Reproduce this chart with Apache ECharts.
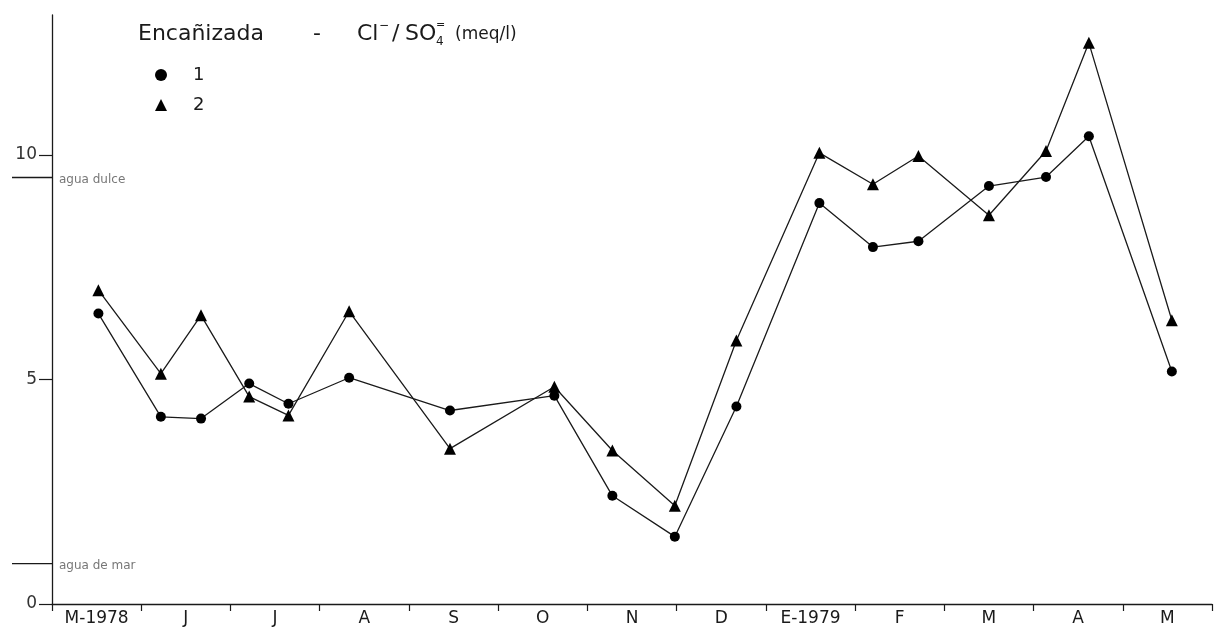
<!DOCTYPE html>
<html><head><meta charset="utf-8">
<script src="https://cdn.jsdelivr.net/npm/echarts@6/dist/echarts.min.js"></script>
<style>html,body{margin:0;padding:0;background:#fff}#c{width:1214px;height:633px}</style>
</head><body><div id="c"></div>
<script>
// Month categories along the x axis
const months = ['M-1978','J','J','A','S','O','N','D','E-1979','F','M','A','M'];
// Sampling dates, in months counted from the start of May 1978
const sampleMonths = [0.52,1.22,1.67,2.21,2.65,3.33,4.46,5.63,6.28,6.98,7.67,8.60,9.20,9.71,10.50,11.14,11.62,12.55];
// Cl- / SO4= (meq/l)
const station1 = [6.47,4.17,4.13,4.91,4.46,5.04,4.31,4.64,2.41,1.50,4.40,8.93,7.95,8.08,9.31,9.51,10.42,5.18];
const station2 = [6.99,5.13,6.43,4.62,4.20,6.52,3.46,4.84,3.42,2.19,5.87,10.05,9.35,9.98,8.66,10.09,12.50,6.32];
const yTicks = [0,5,10];
const refNames = ['agua dulce','agua de mar'];
const refValues = [9.5,0.9];

const FONT = 'DejaVu Sans';
const INK = '#1a1a1a';
const chart = echarts.init(document.getElementById('c'), null, {renderer:'canvas'});

function zip(xs, ys){ return xs.map((x,i)=>[x, ys[i]]); }

const option = {
  animation:false,
  backgroundColor:'#fff',
  grid:{left:52, right:2, top:15, bottom:29, containLabel:false},
  legend:{
    orient:'vertical', left:150, top:61, itemWidth:12, itemHeight:12, itemGap:12,
    textStyle:{fontFamily:FONT, fontSize:18, color:INK, padding:[0,0,0,21]},
    data:[{name:'1', icon:'circle'},{name:'2', icon:'triangle'}]
  },
  xAxis:[
    {type:'category', data:months, boundaryGap:true, position:'bottom',
     axisLine:{lineStyle:{color:INK, width:1.3}},
     axisTick:{show:true, length:7, inside:false, lineStyle:{color:INK, width:1.2}},
     axisLabel:{fontFamily:FONT, fontSize:17, color:INK, margin:6},
     splitLine:{show:false}},
    {type:'value', min:0, max:13, show:false}
  ],
  yAxis:{
    type:'value', min:0, max:13.12,
    axisLine:{show:true, lineStyle:{color:INK, width:1.3}},
    axisTick:{show:true, length:13, customValues:yTicks, lineStyle:{color:INK, width:1.2}},
    axisLabel:{fontFamily:FONT, fontSize:17, color:'#333', margin:15, customValues:yTicks},
    splitLine:{show:false}
  },
  series:[
    {name:'1', type:'line', xAxisIndex:1, data:zip(sampleMonths, station1),
     symbol:'circle', symbolSize:10, lineStyle:{color:INK, width:1.3},
     itemStyle:{color:'#000'}},
    {name:'2', type:'line', xAxisIndex:1, data:zip(sampleMonths, station2),
     symbol:'triangle', symbolSize:12, lineStyle:{color:INK, width:1.3},
     itemStyle:{color:'#000'}}
  ]
};
chart.setOption(option);

// reference levels drawn with the y scale
const refGraphics = [];
refValues.forEach((v,i)=>{
  const py = chart.convertToPixel({yAxisIndex:0}, v);
  refGraphics.push({type:'line', shape:{x1:12, y1:py, x2:52, y2:py}, style:{stroke:INK, lineWidth:1.3}});
  refGraphics.push({type:'text', x:59, y:py+2, style:{text:refNames[i], font:'12px '+FONT, fill:'#777', verticalAlign:'middle'}});
});
// title
const tf = '22px '+FONT;
const titleGraphics = [
  {type:'text', x:138, y:34, style:{text:'Encañizada', font:tf, fill:INK, verticalAlign:'middle'}},
  {type:'text', x:313, y:34, style:{text:'-', font:tf, fill:INK, verticalAlign:'middle'}},
  {type:'text', x:357, y:34, style:{text:'Cl', font:tf, fill:INK, verticalAlign:'middle'}},
  {type:'text', x:379, y:26, style:{text:'−', font:'12px '+FONT, fill:INK, verticalAlign:'middle'}},
  {type:'text', x:392, y:34, style:{text:'/', font:tf, fill:INK, verticalAlign:'middle'}},
  {type:'text', x:405, y:34, style:{text:'SO', font:tf, fill:INK, verticalAlign:'middle'}},
  {type:'text', x:436, y:42, style:{text:'4', font:'12px '+FONT, fill:INK, verticalAlign:'middle'}},
  {type:'text', x:436, y:25, style:{text:'=', font:'11px '+FONT, fill:INK, verticalAlign:'middle'}},
  {type:'text', x:455, y:35, style:{text:'(meq/l)', font:'17px '+FONT, fill:INK, verticalAlign:'middle'}}
];
chart.setOption({graphic:refGraphics.concat(titleGraphics)});
</script></body></html>
